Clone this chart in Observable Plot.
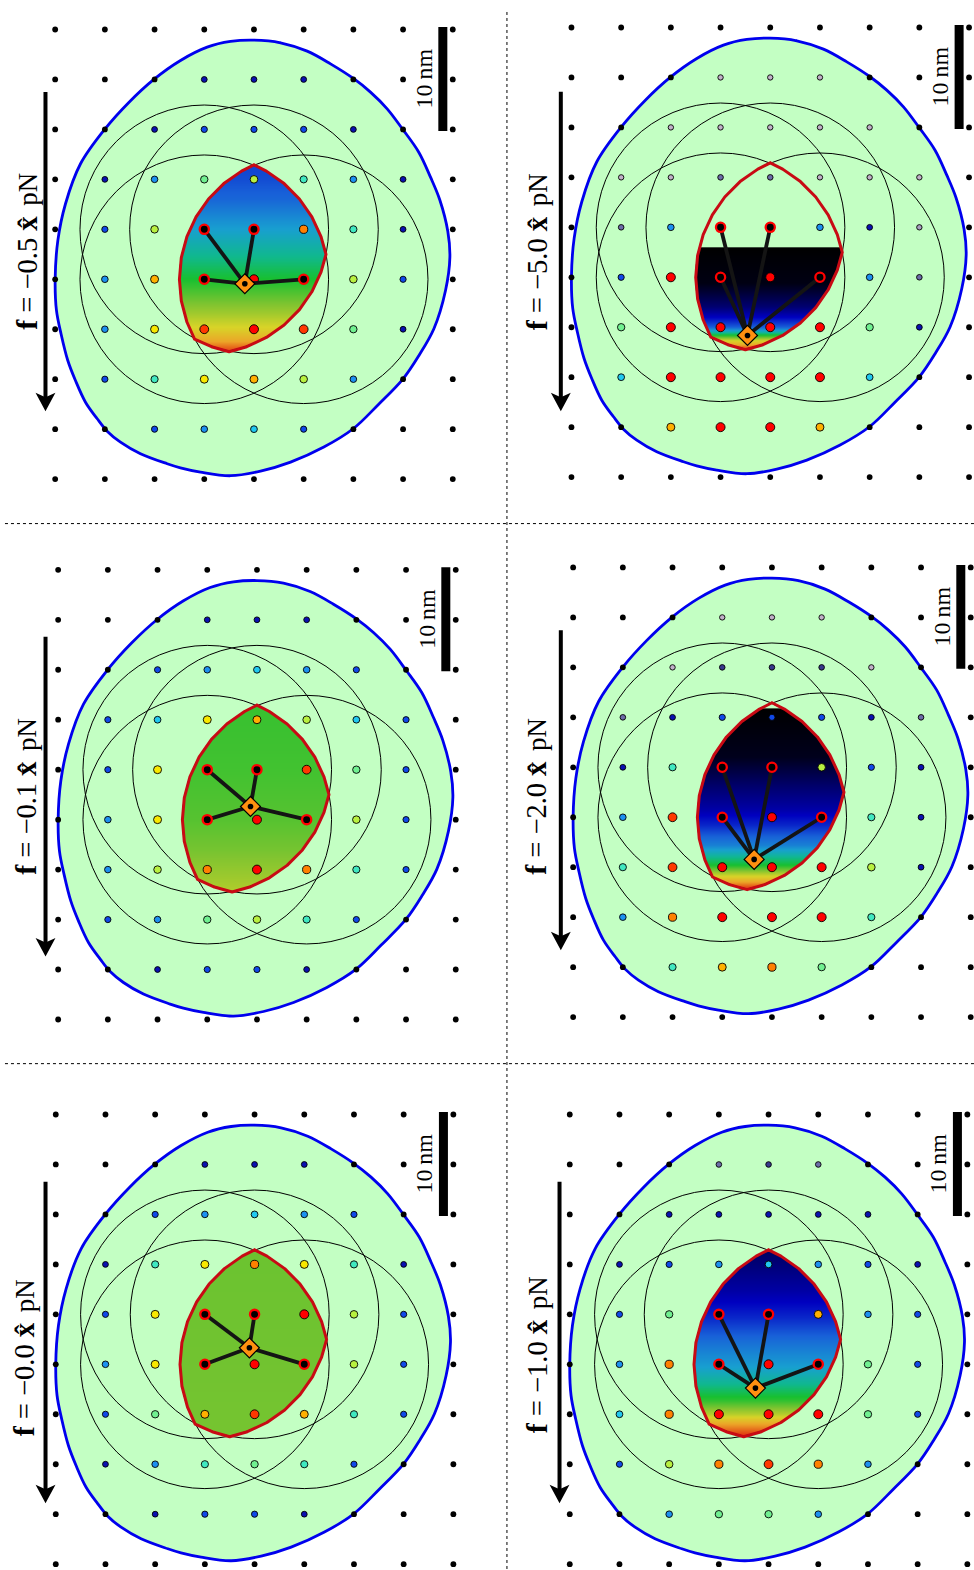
<!DOCTYPE html>
<html>
<head>
<meta charset="utf-8">
<script src="https://cdn.jsdelivr.net/npm/d3@7"></script>
<script src="https://cdn.jsdelivr.net/npm/@observablehq/plot@0.6"></script>
<style>html,body{margin:0;padding:0;background:#fff}svg{display:block}</style>
</head>
<body>
<div id="chart"></div>
<script>
// All lengths below are in nanometres; the site lattice pitch is 5 nm.
const panelForce = ["0.5", "0.1", "0.0", "5.0", "2.0", "1.0"];
const originX = [5.50, 5.80, 5.56, 57.44, 57.61, 57.27];
const originY = [2.90, 56.98, 111.49, 2.70, 56.74, 111.49];

// Site colour codes: rows top to bottom, "-" marks a tether anchor site
const sites05 = ["kkkkkkkkk","kkknnnkkk","kknbbbnkk","knagltank","kbl--dtnk","kao-R-lbk","kayrRrgnk","kbtyolakk","kkbacbkkk","kkkkkkkkk"];
const sites01 = ["kkkkkkkkk","kkknnnkkk","kkbacabkk","kbcyolcbk","kby--rgbk","kay-R-lbk","kaldRdtbk","kbagltbkk","kknbbnkkk","kkkkkkkkk"];
const sites00 = ["kkkkkkkkk","kkknnnkkk","kkbacabkk","kntydytnk","kby--Rlbk","kay-R-lbk","kbgorotbk","knatgtbkk","kknbbnkkk","kkkkkkkkk"];
const sites50 = ["kkkkkkkkk","kkkssskkk","kkssssskk","kssvvsssk","kva--anSk","kbR-R-avk","kgRRRRgnk","kcRRRRckk","kkoRRokkk","kkkkkkkkk"];
const sites20 = ["kkkkkkkkk","kkkssskkk","kksVVVskk","kvnbbbnvk","knt--lbnk","kar-R-tnk","ktrRRRlnk","kadRRRtkk","kktodgkkk","kkkkkkkkk"];
const sites10 = ["kkkkkkkkk","kkkvVvkkk","kknnnnnkk","knbacabnk","kbg--oabk","kad-R-gbk","kcdRRRgbk","kbldrdakk","kkaggakkk","kkkkkkkkk"];
const panelSites = [sites05, sites01, sites00, sites50, sites20, sites10];

const siteColor = {k:"#000000",n:"#0a10b0",b:"#1048e8",a:"#1c90f0",c:"#20c8f0",t:"#40e8c0",g:"#70f090",l:"#b8f040",y:"#f8e800",o:"#ffb000",d:"#ff8000",r:"#ff3800",R:"#ff0000",s:"#c0b0c8",S:"#a8a0c0",v:"#6c6ca8",V:"#38388c"};
const siteRadius = {k:2.9,n:2.9,b:3.1,a:3.3,c:3.4,t:3.6,g:3.7,l:3.8,y:4,o:4,d:4.1,r:4.4,R:4.5,s:2.7,S:2.7,v:2.8,V:2.8};

// Tether anchors and the common reach of the tethers
const anchorX = [15, 20, 15, 25];
const anchorY = [20, 20, 25, 25];
const reachPx = 124.3;

// Cargo (diamond) position in each panel
const cargoX = [19.08, 19.35, 19.48, 17.71, 18.21, 18.68];
const cargoY = [25.45, 23.68, 23.35, 30.82, 29.22, 27.38];

// Outer accessible boundary
const outerX = [19.99,22.67,25.35,27.70,30.04,31.72,33.40,34.97,36.58,37.76,38.69,39.50,39.71,39.27,38.10,36.60,34.98,32.50,29.98,27.03,23.68,20.66,17.64,14.62,12.60,11.27,8.58,6.57,5.23,4.23,3.05,2.04,1.27,0.6,0.13,0,0.27,1.04,2.55,5.0,7.41,9.96,12.61,15.29,17.64];
const outerY = [1.07,1.33,2.17,3.44,4.93,6.27,7.94,10.0,12.28,14.78,17.04,20.2,22.78,26.12,29.95,32.62,34.99,37.55,39.96,41.79,43.30,44.20,44.66,44.30,43.87,43.46,42.46,41.30,40.20,38.96,37.30,35.13,33.13,30.5,28.12,24.98,21.11,17.44,13.44,9.97,7.30,4.97,3.10,1.77,1.20];

// Inner region reachable by all tethers
const innerX = [20,21.25,23.035,24.576,25.825,26.746,27.247,26.746,25.825,24.576,23.035,21.25,19.275,17.5,15.725,14.02,13.254,12.69,12.5,12.69,13.254,14.175,15.424,16.965,18.75,20];
const innerY = [13.544,14.175,15.424,16.965,18.75,20.725,22.5,24.275,26.25,28.035,29.576,30.825,31.746,32.247,31.746,30.98,29.275,27.171,25,22.829,20.725,18.75,16.965,15.424,14.175,13.544];

// Probability map: depth in nm and mean level (0 empty .. 1 most likely)
const heatDepth05 = [13.5,15,17,19,21,23,25,27,28.5,30,31,32.5];
const heatLevel05 = [.27,.28,.31,.37,.43,.49,.56,.64,.7,.77,.84,.96];
const heatDepth01 = [13.5,20,25,28,32.5];
const heatLevel01 = [.59,.6,.62,.65,.72];
const heatDepth00 = [13.5,23,32.5];
const heatLevel00 = [.64,.645,.65];
const heatDepth50 = [22,25.6,26.6,28,29,30,30.4,30.8,31.3,31.8,32.3];
const heatLevel50 = [0,.02,.06,.12,.2,.3,.42,.56,.74,.86,.98];
const heatDepth20 = [14.1,19,21.8,24.1,25.8,27.8,29.2,29.8,30.8,31.5,32.3];
const heatLevel20 = [0,.03,.11,.17,.24,.35,.5,.56,.74,.86,.97];
const heatDepth10 = [13.6,17.6,20.3,23,25.3,27,28.6,30,31,32.4];
const heatLevel10 = [.1,.17,.24,.33,.4,.48,.58,.72,.86,.97];
const panelHeatDepth = [heatDepth05, heatDepth01, heatDepth00, heatDepth50, heatDepth20, heatDepth10];
const panelHeatLevel = [heatLevel05, heatLevel01, heatLevel00, heatLevel50, heatLevel20, heatLevel10];
const rampLevel = [0,.1,.2,.3,.4,.48,.56,.66,.76,.86,.95,1];
const rampColor = ["#000000","#000060","#0000c0","#1860d8","#18a0d0","#10b890","#18c030","#80c430","#d8d428","#eca428","#e03010","#c00000"];

// Force arrow and label per panel
const arrowX = [-0.975,-1.27,-1.03,-1.07,-1.24,-1.03];
const arrowTop = [6.3,6.74,6.77,6.47,6.33,6.77];
const arrowTip = [38.2,38.7,38.9,38.4,38.3,38.9];
const labelX = [-1.87,-2.18,-2.21,-2.51,-2.69,-2.34];
const labelY = [30.05,30.52,32.2,30.3,30.76,31.9];
const labelGap = [0,1.7,9.9,12.4];
const arrowHeadX = [0,1,0,-1];
const arrowHeadY = [0,-1.85,-1.4,-1.85];

// Scale bar (10 nm)
const barX = 39.0, barTop = -0.2, barBottom = 10.2, barLabelX = 37.9, barLabelY = 7.9;

// Dashed separators
const dividerV = 50.95;
const dividerH = [52.35, 106.4];
const fullW = 974 / 9.94, fullH = 1570 / 9.992;

const ramp = d3.scaleLinear().domain(rampLevel).range(rampColor);
const innerPoly = innerX.map((x, i) => [x, innerY[i]]);
const panels = panelForce.map((f, p) => ({f, p, ox: originX[p], oy: originY[p]}));

const sites = panels.flatMap(({p, ox, oy}) => panelSites[p].flatMap((row, j) =>
  [...row].map((code, i) => ({x: ox + i * 5, y: oy + j * 5, code})).filter(d => d.code !== "-")));
const blackSites = sites.filter(d => d.code === "k");
const colourSites = sites.filter(d => d.code !== "k");
const anchors = panels.flatMap(({p, ox, oy}) => anchorX.map((ax, i) => ({p, x: ox + ax, y: oy + anchorY[i]})));
const cargo = panels.map(({p, ox, oy}) => ({p, x: ox + cargoX[p], y: oy + cargoY[p]}));
const spokes = anchors.map(a => ({x1: cargo[a.p].x, y1: cargo[a.p].y, x2: a.x, y2: a.y}));
const outer = panels.flatMap(({p, ox, oy}) => outerX.map((x, i) => ({p, x: ox + x, y: oy + outerY[i]})));
const inner = panels.flatMap(({p, ox, oy}) => innerX.map((x, i) => ({p, x: ox + x, y: oy + innerY[i]})));
const shafts = panels.map(({p, ox, oy}) => ({x: ox + arrowX[p], y1: oy + arrowTop[p], y2: oy + arrowTip[p] - 1}));
const heads = panels.flatMap(({p, ox, oy}) => arrowHeadX.map((hx, i) => ({p, x: ox + arrowX[p] + hx, y: oy + arrowTip[p] + arrowHeadY[i]})));
const bars = panels.map(({ox, oy}) => ({x: ox + barX, y1: oy + barTop, y2: oy + barBottom}));
const barLabels = panels.map(({ox, oy}) => ({x: ox + barLabelX, y: oy + barLabelY}));
const labelAt = (p, k) => ({x: originX[p] + labelX[p], y: originY[p] + labelY[p] - labelGap[k]});

const heatMarks = panels.map(({p, ox, oy}) => {
  const depth = d3.scaleLinear().domain(panelHeatDepth[p]).range(panelHeatLevel[p]).clamp(true);
  const top = panelHeatDepth[p][0];
  return Plot.raster({
    x1: ox + 12, x2: ox + 28, y1: oy + 13, y2: oy + 33, pixelSize: 1,
    fill: (x, y) => {
      const lx = x - ox, ly = y - oy;
      if (ly < top || !d3.polygonContains(innerPoly, [lx, ly])) return null;
      return ramp(depth(ly));
    }
  });
});

const textBase = {fontFamily: "'Liberation Serif', serif", rotate: -90, textAnchor: "start", lineAnchor: "bottom", fill: "black", fontSize: 27};

const chart = Plot.plot({
  width: 974, height: 1570, margin: 0,
  x: {domain: [0, fullW], range: [0, 974], axis: null},
  y: {domain: [0, fullH], range: [0, 1570], axis: null},
  r: {type: "identity"},
  style: {background: "white"},
  marks: [
    Plot.line(outer, {x: "x", y: "y", z: "p", curve: "catmull-rom-closed", fill: "#c3ffc3", stroke: "#0000ee", strokeWidth: 2.8}),
    ...heatMarks,
    Plot.dot(panels.flatMap(({ox, oy}) => anchorX.map((ax, i) => ({x: ox + ax, y: oy + anchorY[i]}))), {x: "x", y: "y", r: reachPx, fill: "none", stroke: "black", strokeWidth: 1}),
    Plot.dot(blackSites, {x: "x", y: "y", r: siteRadius.k, fill: "black"}),
    Plot.dot(colourSites, {x: "x", y: "y", r: d => siteRadius[d.code], fill: d => siteColor[d.code], stroke: "black", strokeWidth: 0.9}),
    Plot.line(inner, {x: "x", y: "y", z: "p", stroke: "#c80a14", strokeWidth: 3, strokeLinejoin: "round"}),
    Plot.link(spokes, {x1: "x1", y1: "y1", x2: "x2", y2: "y2", stroke: "#141414", strokeWidth: 3.8}),
    Plot.dot(anchors, {x: "x", y: "y", r: 4.6, fill: "black", stroke: "#ff0000", strokeWidth: 2.3}),
    Plot.dot(cargo, {x: "x", y: "y", r: 9, symbol: "diamond2", fill: "#ff9010", stroke: "black", strokeWidth: 1.2}),
    Plot.dot(cargo, {x: "x", y: "y", r: 2.8, fill: "black"}),
    Plot.ruleX(shafts, {x: "x", y1: "y1", y2: "y2", stroke: "black", strokeWidth: 4}),
    Plot.line(heads, {x: "x", y: "y", z: "p", fill: "black", stroke: "none"}),
    Plot.ruleX(bars, {x: "x", y1: "y1", y2: "y2", stroke: "black", strokeWidth: 9}),
    Plot.text(barLabels, {x: "x", y: "y", text: () => "10\u2009nm", ...textBase, fontSize: 24}),
    Plot.text(panels, {x: d => labelAt(d.p, 0).x, y: d => labelAt(d.p, 0).y, text: () => "f", ...textBase, fontWeight: "bold", fontSize: 30}),
    Plot.text(panels, {x: d => labelAt(d.p, 1).x, y: d => labelAt(d.p, 1).y, text: d => "= \u2212" + d.f, ...textBase, fontSize: 28.5}),
    Plot.text(panels, {x: d => labelAt(d.p, 2).x, y: d => labelAt(d.p, 2).y, text: () => "x\u0302", ...textBase, fontWeight: "bold", fontSize: 29}),
    Plot.text(panels, {x: d => labelAt(d.p, 3).x, y: d => labelAt(d.p, 3).y, text: () => "pN", ...textBase, fontSize: 27}),
    Plot.ruleX([dividerV], {y1: 1.2, y2: fullH, stroke: "black", strokeWidth: 1, strokeDasharray: "3,3"}),
    Plot.ruleY(dividerH, {x1: 0.5, x2: fullW, stroke: "black", strokeWidth: 1, strokeDasharray: "3,3"})
  ]
});
document.getElementById("chart").appendChild(chart);
</script>
</body>
</html>
